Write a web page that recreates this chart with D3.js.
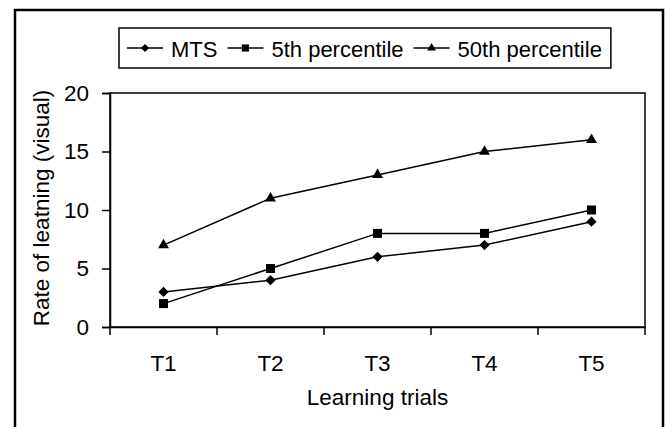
<!DOCTYPE html>
<html>
<head>
<meta charset="utf-8">
<script src="https://cdn.jsdelivr.net/npm/d3@7"></script>
<style>
  body { margin: 0; background: #fff; }
  svg { font-family: Arial, "Liberation Sans", Helvetica, sans-serif; }
</style>
</head>
<body>
<svg id="chart" width="666" height="427"></svg>
<script>
  // data
  const trials = ["T1", "T2", "T3", "T4", "T5"];
  const mts = [3, 4, 6, 7, 9];
  const p5 = [2, 5, 8, 8, 10];
  const p50 = [7, 11, 13, 15, 16];
  const yTicks = [0, 5, 10, 15, 20];

  const series = [
    { label: "MTS", values: mts, shape: "diamond" },
    { label: "5th percentile", values: p5, shape: "square" },
    { label: "50th percentile", values: p50, shape: "triangle" }
  ];

  const svg = d3.select("#chart");
  const plot = { left: 110, right: 645, top: 93, bottom: 327 };
  const fs = 22.5;

  // outer frame
  svg.append("rect")
    .attr("x", 15).attr("y", 10)
    .attr("width", 648).attr("height", 430)
    .attr("fill", "none").attr("stroke", "#000").attr("stroke-width", 2.5);

  const x = d3.scaleBand().domain(trials).range([plot.left, plot.right]);
  const y = d3.scaleLinear().domain([0, 20]).range([plot.bottom, plot.top]);

  function marker(shape) {
    if (shape === "diamond") return d3.symbol(d3.symbolSquare, 52)();
    if (shape === "square") return d3.symbol(d3.symbolSquare, 81)();
    return d3.symbol(d3.symbolTriangle, 52)();
  }

  // plot frame
  svg.append("rect")
    .attr("x", plot.left).attr("y", plot.top)
    .attr("width", plot.right - plot.left).attr("height", plot.bottom - plot.top)
    .attr("fill", "none").attr("stroke", "#000").attr("stroke-width", 1.5);

  // y axis
  const gy = svg.append("g")
    .attr("transform", `translate(${plot.left},0)`)
    .call(d3.axisLeft(y).tickValues(yTicks).tickSize(8).tickPadding(13));
  gy.select(".domain").attr("stroke-width", 1.5);
  gy.selectAll(".tick line").attr("stroke-width", 1.5);
  gy.selectAll("text").attr("font-size", fs).attr("font-family", null).attr("fill", "#000");

  // x axis, labels at band centres, ticks at band edges
  const gx = svg.append("g")
    .attr("transform", `translate(0,${plot.bottom})`)
    .call(d3.axisBottom(x).tickSize(0).tickPadding(28));
  gx.select(".domain").attr("stroke-width", 1.5);
  gx.selectAll("text").attr("font-size", fs).attr("font-family", null).attr("fill", "#000");
  const edges = trials.map(t => x(t)).concat([x(trials[trials.length - 1]) + x.bandwidth()]);
  gx.selectAll("line.edge").data(edges).enter().append("line")
    .attr("class", "edge")
    .attr("x1", d => d).attr("x2", d => d)
    .attr("y1", 0).attr("y2", 8)
    .attr("stroke", "#000").attr("stroke-width", 1.5);

  // axis titles
  svg.append("text")
    .attr("transform", `translate(49,${(plot.top + plot.bottom) / 2 - 2}) rotate(-90)`)
    .attr("text-anchor", "middle").attr("font-size", fs)
    .text("Rate of leatning (visual)");
  svg.append("text")
    .attr("x", (plot.left + plot.right) / 2).attr("y", 405)
    .attr("text-anchor", "middle").attr("font-size", fs)
    .text("Learning trials");

  // series
  const line = d3.line()
    .x((d, i) => x(trials[i]) + x.bandwidth() / 2)
    .y(d => y(d));
  series.forEach(s => {
    svg.append("path")
      .attr("d", line(s.values))
      .attr("fill", "none").attr("stroke", "#000").attr("stroke-width", 1.5);
    svg.selectAll(null).data(s.values).enter().append("path")
      .attr("d", marker(s.shape))
      .attr("transform", (d, i) => {
        const cx = x(trials[i]) + x.bandwidth() / 2;
        return `translate(${cx},${y(d)})` + (s.shape === "diamond" ? " rotate(45)" : "");
      })
      .attr("fill", "#000");
  });

  // legend
  const lg = svg.append("g");
  const box = lg.append("rect")
    .attr("y", 28).attr("height", 40)
    .attr("fill", "#fff").attr("stroke", "#000").attr("stroke-width", 1.5);
  let cx = 127;
  const ly = 48;
  series.forEach(s => {
    lg.append("line")
      .attr("x1", cx).attr("x2", cx + 36).attr("y1", ly).attr("y2", ly)
      .attr("stroke", "#000").attr("stroke-width", 1.5);
    lg.append("path")
      .attr("d", marker(s.shape))
      .attr("transform", `translate(${cx + 18},${ly})` + (s.shape === "diamond" ? " rotate(45) scale(0.8)" : " scale(0.8)"))
      .attr("fill", "#000");
    const t = lg.append("text")
      .attr("x", cx + 44).attr("y", 56.5)
      .attr("font-size", 22)
      .text(s.label);
    cx = cx + 44 + t.node().getComputedTextLength() + 10;
  });
  box.attr("x", 119).attr("width", cx - 10 + 9 - 119);
</script>
</body>
</html>
